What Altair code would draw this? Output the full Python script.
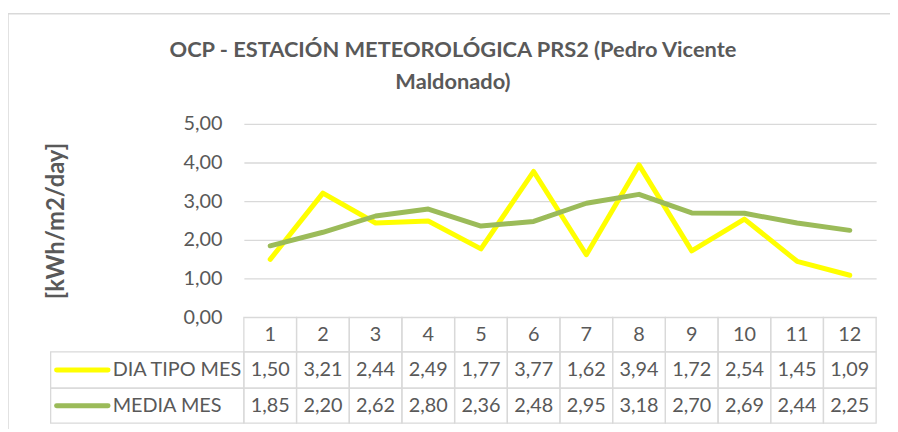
import altair as alt
import pandas as pd

# ---------------- data ----------------
months = [1, 2, 3, 4, 5, 6, 7, 8, 9, 10, 11, 12]
dia_tipo = [1.50, 3.21, 2.44, 2.49, 1.77, 3.77, 1.62, 3.94, 1.72, 2.54, 1.45, 1.09]
media_mes = [1.85, 2.20, 2.62, 2.80, 2.36, 2.48, 2.95, 3.18, 2.70, 2.69, 2.44, 2.25]
series_names = ["DIA TIPO MES", "MEDIA MES"]
series_colors = ["#FFFF00", "#9BBB59"]
y_ticks = [0, 1, 2, 3, 4, 5]
title_lines = ["OCP - ESTACIÓN METEOROLÓGICA PRS2 (Pedro Vicente", "Maldonado)"]
y_title = "[kWh/m2/day]"

# ---------------- layout ----------------
W, H = 638, 302
Y_MIN, Y_MAX = -2.73, 5
ROW_EDGES = [0, -0.888, -1.828, -2.73]
LEG_X0, SYM_X0, SYM_X1, LEG_TX = -3.167, -3.055, -2.077, -1.99
FONT = "Lato"
GRAY = "#595959"
GRID = "#D9D9D9"


def fmt(v):
    return f"{v:.2f}".replace(".", ",")


lines_df = pd.DataFrame({
    "month": months * 2,
    "value": dia_tipo + media_mes,
    "series": [s for s in series_names for _ in months],
})

rows = [[str(m) for m in months], [fmt(v) for v in dia_tipo], [fmt(v) for v in media_mes]]
cells = []
for r, labels in enumerate(rows):
    for m, lab in zip(months, labels):
        cells.append({
            "x0": m - 0.5, "x1": m + 0.5, "xc": m,
            "top": ROW_EDGES[r], "bot": ROW_EDGES[r + 1],
            "mid": (ROW_EDGES[r] + ROW_EDGES[r + 1]) / 2,
            "label": lab,
        })
cells_df = pd.DataFrame(cells)

legend_df = pd.DataFrame({
    "series": series_names,
    "x0": [LEG_X0] * 2, "x1": [0.5] * 2,
    "s0": [SYM_X0] * 2, "s1": [SYM_X1] * 2, "tx": [LEG_TX] * 2,
    "top": ROW_EDGES[1:3], "bot": ROW_EDGES[2:4],
    "mid": [(ROW_EDGES[i] + ROW_EDGES[i + 1]) / 2 for i in (1, 2)],
})

xs = alt.Scale(domain=[0.5, 12.5], nice=False, zero=False)
ys = alt.Scale(domain=[Y_MIN, Y_MAX], nice=False, zero=False)
cs = alt.Scale(domain=series_names, range=series_colors)

y_axis = alt.Axis(
    values=y_ticks, grid=True, gridColor=GRID, gridWidth=1.3,
    domain=False, ticks=False,
    labelExpr="replace(format(datum.value, '.2f'), '.', ',')",
    labelFont=FONT, labelFontSize=20, labelColor=GRAY, labelPadding=22,
    title=y_title, titleFont=FONT, titleFontSize=24, titleFontWeight="bold",
    titleColor=GRAY, titleAngle=270, titleX=-189, titleY=97.5,
    titleAlign="center", titleBaseline="middle",
)


def X(field):
    return alt.X(field, scale=xs, axis=None)


def Y(field):
    return alt.Y(field, scale=ys, axis=y_axis)


frame = alt.Chart(pd.DataFrame({"k": [0]})).mark_rect(
    fillOpacity=0, stroke=GRID, strokeWidth=1.5
).encode(x=alt.value(-238), x2=alt.value(W + 300), y=alt.value(-111), y2=alt.value(H + 200))

line_yellow = alt.Chart(lines_df).transform_filter(
    alt.datum.series == series_names[0]
).mark_line(strokeWidth=5, strokeCap="round", strokeJoin="round").encode(
    x=X("month:Q"), y=Y("value:Q"),
    color=alt.Color("series:N", scale=cs, legend=None),
)
line_green = alt.Chart(lines_df).transform_filter(
    alt.datum.series == series_names[1]
).mark_line(strokeWidth=5, strokeCap="round", strokeJoin="round").encode(
    x=X("month:Q"), y=Y("value:Q"),
    color=alt.Color("series:N", scale=cs, legend=None),
)

cell_rects = alt.Chart(cells_df).mark_rect(fillOpacity=0, stroke=GRID, strokeWidth=1.3).encode(
    x=X("x0:Q"), x2="x1:Q", y=Y("top:Q"), y2="bot:Q",
)
cell_text = alt.Chart(cells_df).mark_text(
    font=FONT, fontSize=20, color=GRAY, align="center", baseline="middle"
).encode(x=X("xc:Q"), y=Y("mid:Q"), text="label:N")

leg_rects = alt.Chart(legend_df).mark_rect(fillOpacity=0, stroke=GRID, strokeWidth=1.3).encode(
    x=X("x0:Q"), x2="x1:Q", y=Y("top:Q"), y2="bot:Q",
)
leg_sym = alt.Chart(legend_df).mark_rule(strokeWidth=5, strokeCap="round").encode(
    x=X("s0:Q"), x2="s1:Q", y=Y("mid:Q"),
    color=alt.Color("series:N", scale=cs, legend=None),
)
leg_text = alt.Chart(legend_df).mark_text(
    font=FONT, fontSize=20, color=GRAY, align="left", baseline="middle"
).encode(x=X("tx:Q"), y=Y("mid:Q"), text="series:N")

chart = alt.layer(
    frame, line_yellow, line_green, cell_rects, cell_text, leg_rects, leg_sym, leg_text
).properties(
    width=W, height=H,
    title=alt.TitleParams(
        text=title_lines, font=FONT, fontSize=22, fontWeight="bold", color=GRAY,
        anchor="middle", frame="group", dx=-108, offset=-99, lineHeight=33,
        baseline="alphabetic",
    ),
    autosize=alt.AutoSizeParams(type="none"),
    padding={"left": 238, "top": 115, "right": 14, "bottom": 4},
).configure_view(strokeWidth=0)

chart.save("out.html", embed_options={"renderer": "svg", "actions": False})
